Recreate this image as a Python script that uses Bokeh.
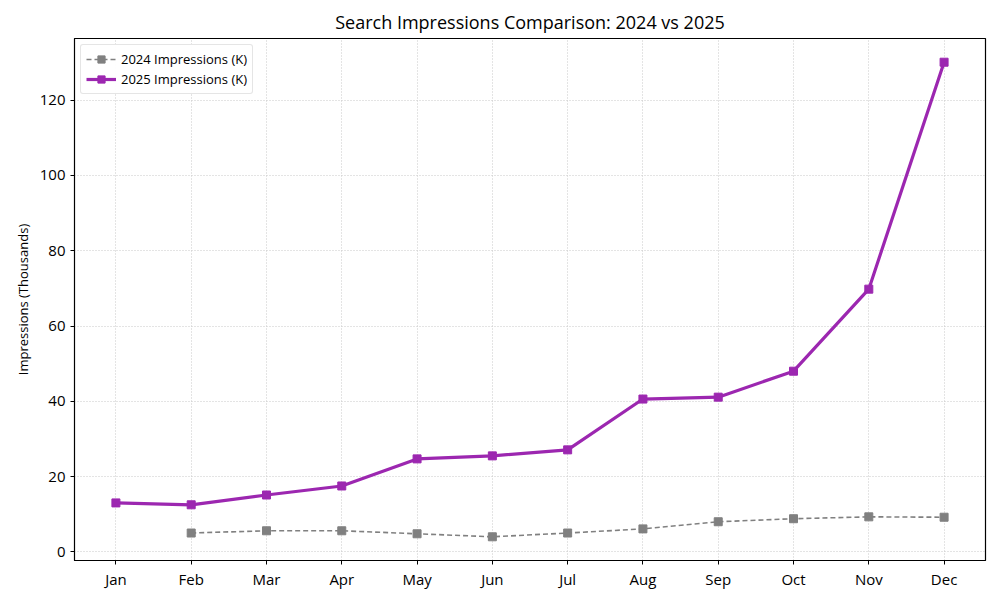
from bokeh.plotting import figure
from bokeh.models import ColumnDataSource, FixedTicker, Legend, LegendItem, Range1d
from bokeh.embed import file_html
from bokeh.resources import INLINE

months = ["Jan", "Feb", "Mar", "Apr", "May", "Jun", "Jul", "Aug", "Sep", "Oct", "Nov", "Dec"]
idx_2024 = [1, 2, 3, 4, 5, 6, 7, 8, 9, 10, 11]
impr_2024 = [5.0, 5.6, 5.6, 4.8, 4.0, 5.0, 6.1, 8.0, 8.8, 9.3, 9.2]
idx_2025 = list(range(12))
impr_2025 = [13.0, 12.5, 15.1, 17.5, 24.7, 25.5, 27.1, 40.6, 41.1, 48.0, 69.8, 130.1]

FONT = "Open Sans"

src24 = ColumnDataSource(data=dict(x=idx_2024, y=impr_2024))
src25 = ColumnDataSource(data=dict(x=idx_2025, y=impr_2025))

p = figure(width=992, height=592, output_backend="svg", toolbar_location=None,
           title="Search Impressions Comparison: 2024 vs 2025",
           x_range=Range1d(-0.55, 11.55), y_range=Range1d(-2.3, 136.4),
           min_border_left=74, min_border_right=7, min_border_top=38, min_border_bottom=32)

p.title.align = "center"
p.title.text_font = FONT
p.title.text_font_size = "18px"
p.title.text_font_style = "normal"
p.title.text_color = "black"

p.outline_line_color = "black"
p.outline_line_width = 1.2

p.xaxis.ticker = FixedTicker(ticks=idx_2025)
p.xaxis.major_label_overrides = {i: m for i, m in enumerate(months)}
p.xaxis.major_label_standoff = 4
p.yaxis.ticker = FixedTicker(ticks=[0, 20, 40, 60, 80, 100, 120])
p.yaxis.axis_label = "Impressions (Thousands)"
for ax in (p.xaxis[0], p.yaxis[0]):
    ax.major_label_text_font = FONT
    ax.major_label_text_font_size = "15px"
    ax.major_label_text_color = "black"
    ax.axis_label_text_font = FONT
    ax.axis_label_text_font_size = "13px"
    ax.axis_label_text_font_style = "normal"
    ax.axis_label_text_color = "black"
    ax.axis_line_color = "black"
    ax.major_tick_line_color = "black"
    ax.major_tick_out = 4
    ax.major_tick_in = 0
    ax.minor_tick_line_color = None

p.grid.grid_line_color = "#c8c8c8"
p.grid.grid_line_dash = "1 2"
p.grid.grid_line_width = 1

l24 = p.line("x", "y", source=src24, line_color="#808080", line_width=1.6, line_dash="5 3")
m24 = p.scatter("x", "y", source=src24, marker="square", size=8, color="#808080")
l25 = p.line("x", "y", source=src25, line_color="#9C27B0", line_width=3.2)
m25 = p.scatter("x", "y", source=src25, marker="square", size=8, color="#9C27B0")

legend = Legend(items=[LegendItem(label="2024 Impressions (K)", renderers=[l24, m24]),
                       LegendItem(label="2025 Impressions (K)", renderers=[l25, m25])],
                location="top_left")
legend.label_text_font = FONT
legend.label_text_font_size = "13px"
legend.label_text_color = "black"
legend.border_line_color = "#cccccc"
legend.border_radius = 3
legend.margin = 6
legend.padding = 5
legend.spacing = 2
legend.glyph_width = 30
legend.glyph_height = 18
legend.label_height = 18
p.add_layout(legend)

open("out.html", "w").write(file_html(p, INLINE))
